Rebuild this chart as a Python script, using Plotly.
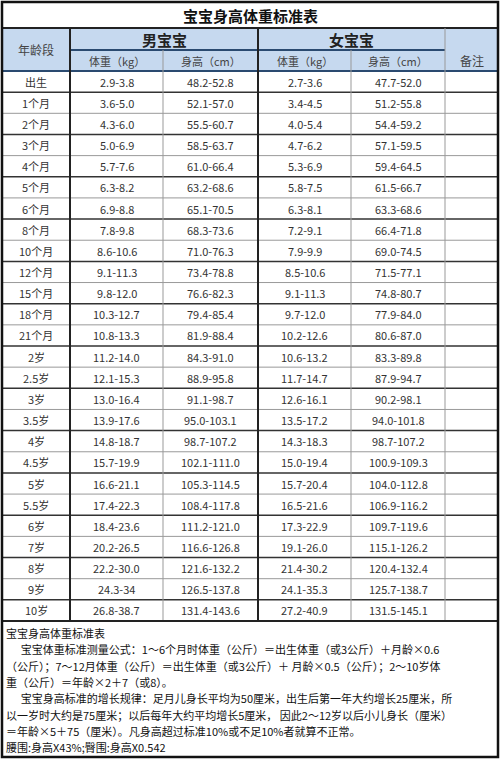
import plotly.graph_objects as go

title = "宝宝身高体重标准表"
ages = ["出生","1个月","2个月","3个月","4个月","5个月","6个月","8个月","10个月","12个月","15个月","18个月","21个月",
        "2岁","2.5岁","3岁","3.5岁","4岁","4.5岁","5岁","5.5岁","6岁","7岁","8岁","9岁","10岁"]
boy_w = ["2.9-3.8","3.6-5.0","4.3-6.0","5.0-6.9","5.7-7.6","6.3-8.2","6.9-8.8","7.8-9.8","8.6-10.6","9.1-11.3","9.8-12.0",
         "10.3-12.7","10.8-13.3","11.2-14.0","12.1-15.3","13.0-16.4","13.9-17.6","14.8-18.7","15.7-19.9","16.6-21.1",
         "17.4-22.3","18.4-23.6","20.2-26.5","22.2-30.0","24.3-34","26.8-38.7"]
boy_h = ["48.2-52.8","52.1-57.0","55.5-60.7","58.5-63.7","61.0-66.4","63.2-68.6","65.1-70.5","68.3-73.6","71.0-76.3",
         "73.4-78.8","76.6-82.3","79.4-85.4","81.9-88.4","84.3-91.0","88.9-95.8","91.1-98.7","95.0-103.1","98.7-107.2",
         "102.1-111.0","105.3-114.5","108.4-117.8","111.2-121.0","116.6-126.8","121.6-132.2","126.5-137.8","131.4-143.6"]
girl_w = ["2.7-3.6","3.4-4.5","4.0-5.4","4.7-6.2","5.3-6.9","5.8-7.5","6.3-8.1","7.2-9.1","7.9-9.9","8.5-10.6","9.1-11.3",
          "9.7-12.0","10.2-12.6","10.6-13.2","11.7-14.7","12.6-16.1","13.5-17.2","14.3-18.3","15.0-19.4","15.7-20.4",
          "16.5-21.6","17.3-22.9","19.1-26.0","21.4-30.2","24.1-35.3","27.2-40.9"]
girl_h = ["47.7-52.0","51.2-55.8","54.4-59.2","57.1-59.5","59.4-64.5","61.5-66.7","63.3-68.6","66.4-71.8","69.0-74.5",
          "71.5-77.1","74.8-80.7","77.9-84.0","80.6-87.0","83.3-89.8","87.9-94.7","90.2-98.1","94.0-101.8","98.7-107.2",
          "100.9-109.3","104.0-112.8","106.9-116.2","109.7-119.6","115.1-126.2","120.4-132.4","125.7-138.7","131.5-145.1"]
group_labels = ["男宝宝","女宝宝"]
sub_labels = ["体重（kg）","身高（cm）","体重（kg）","身高（cm）"]
age_header = "年龄段"
note_header = "备注"
notes = [
    "宝宝身高体重标准表",
    "      宝宝体重标准测量公式：1～6个月时体重（公斤）＝出生体重（或3公斤）＋月龄×0.6",
    "（公斤）；7～12月体重（公斤）＝出生体重（或3公斤）＋ 月龄×0.5（公斤）；2～10岁体",
    "重（公斤）＝年龄×2＋7（或8）。",
    "      宝宝身高标准的增长规律：足月儿身长平均为50厘米，出生后第一年大约增长25厘米，所",
    "以一岁时大约是75厘米；以后每年大约平均增长5厘米， 因此2～12岁以后小儿身长（厘米）",
    "＝年龄×5＋75（厘米）。凡身高超过标准10%或不足10%者就算不正常。",
    "腰围:身高X43%;臀围:身高X0.542",
]

FONT = "Noto Sans CJK SC"
cols = [2, 70, 163, 258, 351, 445, 498]
y_title = (2, 28)
y_h1, y_h2 = 28, 50
y_data0, y_data1 = 71, 621
n = len(ages)
rh = (y_data1 - y_data0) / n
y_note_end = 757

shapes, ann = [], []
def rect(x0, y0, x1, y1, fill, lw=0, lc="#000"):
    shapes.append(dict(type="rect", x0=x0, x1=x1, y0=y0, y1=y1, fillcolor=fill,
                       line=dict(width=lw, color=lc), layer="below"))
def line(x0, y0, x1, y1, w=1, c="#999"):
    shapes.append(dict(type="line", x0=x0, x1=x1, y0=y0, y1=y1, line=dict(width=w, color=c)))
def text(x, y, s, size=11, color="#333", anchor="center", bold=False):
    if bold: s = "<b>" + s + "</b>"
    ann.append(dict(x=x, y=y, text=s, showarrow=False, xanchor=anchor, yanchor="middle",
                    font=dict(family=FONT, size=size, color=color)))

hdr = "#c6d9ef"
rect(cols[0], y_h1, cols[-1], y_data0, hdr)
text(250, sum(y_title) / 2, title, size=15, color="#111", bold=True)
line(cols[0], y_title[1], cols[-1], y_title[1], 2, "#222")
text((cols[0] + cols[1]) / 2, (y_h1 + y_data0) / 2, age_header, 12, "#444")
text((cols[1] + cols[3]) / 2, (y_h1 + y_h2) / 2, group_labels[0], 15, "#222", bold=True)
text((cols[3] + cols[5]) / 2, (y_h1 + y_h2) / 2, group_labels[1], 15, "#222", bold=True)
for i, s in enumerate(sub_labels):
    text((cols[i + 1] + cols[i + 2]) / 2, (y_h2 + y_data0) / 2, s, 11, "#444")
text((cols[5] + cols[6]) / 2, (y_h2 + y_data0) / 2, note_header, 12, "#444")
line(cols[1], y_h2, cols[5], y_h2, 2, "#2a4a70")
line(cols[0], y_data0, cols[-1], y_data0, 2, "#2a4a70")

for i in range(n):
    yc = y_data0 + rh * (i + 0.5)
    for j, s in enumerate([ages[i], boy_w[i], boy_h[i], girl_w[i], girl_h[i]]):
        text((cols[j] + cols[j + 1]) / 2, yc, s, 11, "#333")
    if i > 0:
        yl = y_data0 + rh * i
        line(cols[0], yl, cols[-1], yl, 1.5 if i % 2 else 1, "#333" if i % 2 else "#999")

for x in cols[1:-1]:
    strong = x in (70, 258)
    line(x, y_h1 if x not in (163, 351) else y_h2, x, y_data1, 2 if strong else 1, "#222" if strong else "#999")
line(cols[0], y_data1, cols[-1], y_data1, 2, "#222")
rect(cols[0], y_title[0], cols[-1], y_note_end, "rgba(0,0,0,0)", 2.5, "#111")
shapes[-1]["layer"] = "above"

ys = [y_data1 + 12 + 16.3 * i for i in range(len(notes))]
for s, y in zip(notes, ys):
    text(4, y, s, 11, "#111", anchor="left")

fig = go.Figure()
fig.add_trace(go.Scatter(x=[0, 500], y=[0, 760], mode="markers", marker=dict(opacity=0), hoverinfo="skip"))
fig.update_layout(width=500, height=760, margin=dict(l=0, r=0, t=0, b=0), showlegend=False,
                  plot_bgcolor="white", paper_bgcolor="white", shapes=shapes, annotations=ann,
                  xaxis=dict(range=[0, 500], visible=False, fixedrange=True),
                  yaxis=dict(range=[760, 0], visible=False, fixedrange=True))
fig.write_html("out.html", config={"displayModeBar": False},
               post_script="document.body.style.margin='0';document.body.style.overflow='hidden';"
                           "document.documentElement.style.overflow='hidden';")
